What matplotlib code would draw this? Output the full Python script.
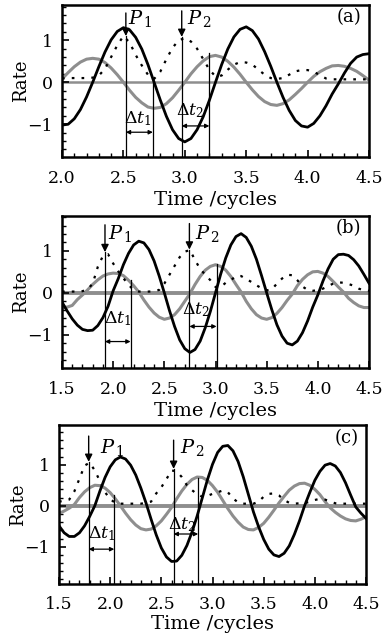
import numpy as np
import matplotlib.pyplot as plt
from matplotlib.ticker import MultipleLocator

plt.rcParams['font.family'] = ['DejaVu Serif']
plt.rcParams['mathtext.fontset'] = 'dejavuserif'

# ---- panel (a) ----
t_a = np.round(np.arange(2.0, 4.5001, 0.05), 2)
black_a = [-1.02, -1.00, -0.87, -0.65, -0.35, 0.00, 0.37, 0.72, 1.01, 1.21, 1.30,
           1.25, 1.07, 0.79, 0.42, 0.00, -0.42, -0.81, -1.13, -1.34, -1.42,
           -1.34, -1.13, -0.82, -0.43, 0.00, 0.42, 0.79, 1.08, 1.26, 1.32,
           1.23, 1.03, 0.73, 0.38, 0.00, -0.36, -0.67, -0.91, -1.04, -1.07,
           -0.98, -0.80, -0.56, -0.28, -0.04, 0.22, 0.45, 0.60, 0.66, 0.68]
gray_a = [0.08, 0.23, 0.37, 0.48, 0.55, 0.57, 0.55, 0.47, 0.34, 0.18, 0.00,
          -0.19, -0.36, -0.49, -0.59, -0.62, -0.60, -0.51, -0.37, -0.19, 0.00,
          0.20, 0.37, 0.51, 0.61, 0.64, 0.60, 0.50, 0.36, 0.19, 0.00,
          -0.18, -0.34, -0.46, -0.53, -0.55, -0.51, -0.42, -0.29, -0.15, 0.00,
          0.14, 0.25, 0.33, 0.39, 0.40, 0.38, 0.33, 0.26, 0.16, 0.05]
dot_a = [0.09, 0.10, 0.10, 0.10, 0.10, 0.11, 0.16, 0.32, 0.60, 0.88, 1.10,
         0.95, 0.65, 0.40, 0.18, 0.08, 0.25, 0.55, 0.82, 1.00, 1.05,
         0.97, 0.80, 0.55, 0.30, 0.14, 0.16, 0.30, 0.42, 0.48, 0.47,
         0.42, 0.30, 0.18, 0.10, 0.08, 0.10, 0.18, 0.26, 0.29, 0.29,
         0.25, 0.17, 0.09, 0.07, 0.07, 0.07, 0.07, 0.07, 0.07, 0.07]

# ---- panel (b) ----
t_b = np.round(np.arange(1.5, 4.5001, 0.05), 2)
black_b = [-0.22, -0.43, -0.62, -0.77, -0.87, -0.90, -0.89, -0.78, -0.59, -0.32,
           0.05, 0.34, 0.67, 0.94, 1.14, 1.23, 1.19, 1.03, 0.76, 0.40,
           0.00, -0.42, -0.80, -1.12, -1.33, -1.42, -1.35, -1.15, -0.83, -0.44,
           0.00, 0.44, 0.83, 1.14, 1.34, 1.41, 1.32, 1.11, 0.80, 0.41,
           0.00, -0.40, -0.76, -1.03, -1.20, -1.24, -1.15, -0.95, -0.67, -0.34,
           -0.05, 0.28, 0.57, 0.80, 0.91, 0.92, 0.89, 0.79, 0.64, 0.44, 0.23]
gray_b = [-0.34, -0.34, -0.30, -0.16, -0.05, 0.07, 0.20, 0.31, 0.40, 0.45,
          0.47, 0.46, 0.41, 0.30, 0.17, 0.02, -0.17, -0.34, -0.48, -0.58,
          -0.63, -0.60, -0.52, -0.38, -0.20, -0.02, 0.20, 0.39, 0.54, 0.63,
          0.67, 0.63, 0.54, 0.39, 0.20, 0.02, -0.20, -0.38, -0.52, -0.60,
          -0.63, -0.59, -0.49, -0.35, -0.18, -0.03, 0.17, 0.32, 0.43, 0.50,
          0.51, 0.47, 0.39, 0.27, 0.14, 0.02, -0.13, -0.23, -0.31, -0.35, -0.35]
dot_b = [0.03, 0.03, 0.03, 0.03, 0.04, 0.08, 0.22, 0.62, 0.88, 0.92,
         0.70, 0.51, 0.35, 0.19, 0.07, 0.03, 0.03, 0.03, 0.04, 0.07,
         0.22, 0.43, 0.64, 0.85, 0.98, 1.02, 0.78, 0.57, 0.43, 0.30,
         0.14, 0.14, 0.24, 0.30, 0.40, 0.40, 0.33, 0.26, 0.18, 0.11,
         0.06, 0.08, 0.22, 0.34, 0.43, 0.42, 0.30, 0.15, 0.07, 0.05,
         0.06, 0.10, 0.16, 0.22, 0.25, 0.24, 0.21, 0.17, 0.10, 0.06, 0.05]

# ---- panel (c) ----
t_c = np.round(np.arange(1.5, 4.5001, 0.05), 2)
black_c = [-0.49, -0.66, -0.75, -0.75, -0.66, -0.49, -0.26, 0.00, 0.36, 0.69,
           0.95, 1.12, 1.19, 1.14, 0.99, 0.75, 0.43, 0.07, -0.33, -0.71,
           -1.03, -1.25, -1.36, -1.35, -1.21, -0.97, -0.64, -0.25, 0.19, 0.63,
           1.01, 1.30, 1.45, 1.47, 1.34, 1.08, 0.71, 0.28, -0.15, -0.51,
           -0.82, -1.06, -1.20, -1.24, -1.16, -0.98, -0.70, -0.37, 0.00, 0.32,
           0.62, 0.84, 0.99, 1.03, 0.97, 0.81, 0.56, 0.26, -0.03, -0.18, -0.31]
gray_c = [-0.19, -0.13, -0.06, 0.03, 0.20, 0.34, 0.44, 0.50, 0.49, 0.43,
          0.32, 0.17, 0.00, -0.18, -0.34, -0.47, -0.56, -0.59, -0.57, -0.49,
          -0.37, -0.21, -0.04, 0.17, 0.36, 0.52, 0.64, 0.70, 0.69, 0.62,
          0.49, 0.33, 0.13, -0.07, -0.25, -0.40, -0.52, -0.58, -0.59, -0.53,
          -0.43, -0.28, -0.11, 0.07, 0.23, 0.38, 0.48, 0.54, 0.55, 0.50,
          0.40, 0.27, 0.10, -0.05, -0.16, -0.25, -0.32, -0.36, -0.37, -0.33, -0.27]
dot_c = [0.10, 0.12, 0.15, 0.35, 0.66, 0.98, 1.05, 0.86, 0.60, 0.33,
         0.16, 0.07, 0.05, 0.05, 0.05, 0.05, 0.05, 0.07, 0.10, 0.30,
         0.45, 0.65, 0.86, 0.84, 0.70, 0.50, 0.38, 0.28, 0.22, 0.24,
         0.29, 0.33, 0.37, 0.33, 0.18, 0.08, 0.05, 0.05, 0.05, 0.10,
         0.22, 0.29, 0.30, 0.25, 0.14, 0.07, 0.05, 0.06, 0.07, 0.09,
         0.14, 0.17, 0.15, 0.10, 0.06, 0.05, 0.05, 0.05, 0.05, 0.05, 0.05]

# marker times: P1, end of dt1, P2, end of dt2
p_times = {'a': [2.52, 2.74, 2.975, 3.20],
           'b': [1.92, 2.17, 2.745, 3.01],
           'c': [1.79, 2.04, 2.62, 2.86]}

GRAY = '#8e8e8e'

fig = plt.figure(figsize=(3.92, 6.35), dpi=100)


def panel(rect, t, black, gray, dot, xlim, ylim, xticks, tag, pt, ann):
    ax = fig.add_axes(rect)
    ax.axhline(0, color=GRAY, lw=ann['zlw'], zorder=1)
    ax.plot(t, gray, color=GRAY, lw=2.2, zorder=2)
    ax.plot(t, dot, color='k', lw=1.6, ls=(0, (1.2, 3.2)), zorder=3)
    ax.plot(t, black, color='k', lw=2.0, zorder=4)
    ax.set_xlim(xlim)
    ax.set_ylim(ylim)

    p1, e1, p2, e2 = pt
    y0 = ylim[0]
    # vertical guide lines
    ax.plot([p1, p1], [y0, ann['tip1']], color='k', lw=0.9)
    ax.plot([e1, e1], [y0, ann['top1']], color='k', lw=0.9)
    ax.plot([p2, p2], [y0, ann['tip2']], color='k', lw=0.9)
    ax.plot([e2, e2], [y0, ann['top2']], color='k', lw=0.9)
    # P arrows
    for x, tip, start in [(p1, ann['tip1'], ann['a1']), (p2, ann['tip2'], ann['a2'])]:
        ax.annotate('', xy=(x, tip), xytext=(x, start),
                    arrowprops=dict(arrowstyle='-|>', color='k', lw=1.0,
                                    mutation_scale=11, shrinkA=0, shrinkB=0))
    # delta t double arrows
    for xa, xb, y in [(p1, e1, ann['d1']), (p2, e2, ann['d2'])]:
        ax.annotate('', xy=(xb, y), xytext=(xa, y),
                    arrowprops=dict(arrowstyle='<|-|>', color='k', lw=0.9,
                                    mutation_scale=6, shrinkA=0, shrinkB=0))
    ax.text(ann['P1'][0], ann['P1'][1], r'$P_{\,1}$', fontsize=14, va='center')
    ax.text(ann['P2'][0], ann['P2'][1], r'$P_{\,2}$', fontsize=14, va='center')
    ax.text(ann['L1'][0], ann['L1'][1], r'$\Delta t_1$', fontsize=12.5,
            ha='center', va='center')
    ax.text(ann['L2'][0], ann['L2'][1], r'$\Delta t_2$', fontsize=12.5,
            ha='center', va='center')
    ax.text(0.975, 0.92, tag, transform=ax.transAxes, fontsize=13,
            ha='right', va='center')

    ax.set_xticks(xticks)
    ax.set_xticklabels(['%.1f' % v for v in xticks])
    ax.set_yticks([-1, 0, 1])
    ax.set_yticklabels(['\u22121', '0', '1'])
    ax.xaxis.set_minor_locator(MultipleLocator(0.1))
    ax.yaxis.set_minor_locator(MultipleLocator(0.2))
    ax.tick_params(which='both', direction='in', top=False, right=False)
    ax.tick_params(which='major', length=5, width=1.2, labelsize=12.5)
    ax.tick_params(which='minor', length=3, width=1.0)
    ax.tick_params(axis='x', pad=ann['xpad'])
    ax.tick_params(axis='y', pad=6.5)
    for s in ax.spines.values():
        s.set_linewidth(1.8)
    ax.set_xlabel('Time /cycles', fontsize=14)
    ax.set_ylabel('Rate', fontsize=13)
    ax.yaxis.set_label_coords(-0.105, 0.5)
    ax.xaxis.set_label_coords(0.5, ann['xl'])
    return ax


panel([62 / 392, 478 / 635, 307 / 392, 152 / 635], t_a, black_a, gray_a, dot_a,
      (2.0, 4.5), (-1.78, 1.84), [2.0, 2.5, 3.0, 3.5, 4.0, 4.5], '(a)', p_times['a'],
      dict(zlw=1.8, tip1=1.10, a1=1.65, top1=0.05, tip2=1.08, a2=1.70, top2=0.69,
           d1=-1.19, d2=-1.04, P1=(2.535, 1.52), P2=(3.02, 1.52),
           L1=(2.62, -0.86), L2=(3.04, -0.67), xl=-0.222, xpad=9.5))

panel([62 / 392, 267 / 635, 307 / 392, 152 / 635], t_b, black_b, gray_b, dot_b,
      (1.5, 4.5), (-1.79, 1.83), [1.5, 2.0, 2.5, 3.0, 3.5, 4.0, 4.5], '(b)', p_times['b'],
      dict(zlw=2.8, tip1=0.97, a1=1.62, top1=0.30, tip2=1.03, a2=1.65, top2=0.68,
           d1=-1.16, d2=-0.80, P1=(1.95, 1.41), P2=(2.80, 1.41),
           L1=(2.05, -0.61), L2=(2.81, -0.41), xl=-0.222, xpad=9.5))

panel([59 / 392, 51 / 635, 307 / 392, 159 / 635], t_c, black_c, gray_c, dot_c,
      (1.5, 4.5), (-1.91, 1.97), [1.5, 2.0, 2.5, 3.0, 3.5, 4.0, 4.5], '(c)', p_times['c'],
      dict(zlw=2.8, tip1=1.07, a1=1.70, top1=0.27, tip2=0.90, a2=1.60, top2=0.67,
           d1=-1.06, d2=-0.69, P1=(1.90, 1.41), P2=(2.68, 1.41),
           L1=(1.92, -0.67), L2=(2.70, -0.46), xl=-0.195, xpad=8.5))

fig.savefig('out.png', dpi=100)
